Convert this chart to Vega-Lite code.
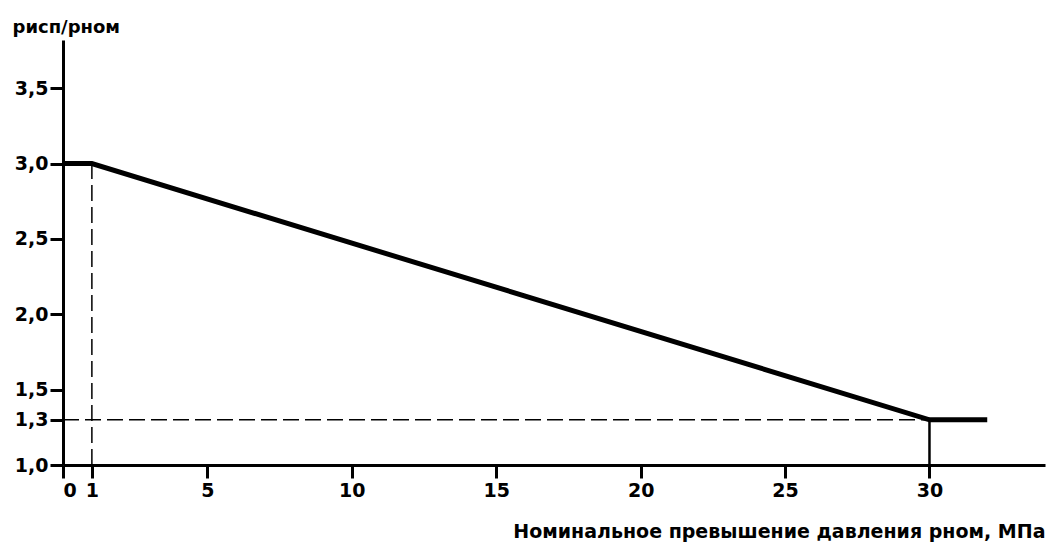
{
  "$schema": "https://vega.github.io/schema/vega-lite/v6.json",
  "autosize": {"type": "none"},
  "padding": {"left": 63, "top": 40, "right": 8, "bottom": 82},
  "width": 982,
  "height": 425,
  "config": {
    "view": {"stroke": null},
    "font": "DejaVu Sans",
    "axis": {"grid": false, "domainColor": "black", "domainWidth": 3, "tickColor": "black", "tickWidth": 3, "tickSize": 13, "labelFont": "DejaVu Sans", "labelFontWeight": "bold", "labelFontSize": 19, "labelColor": "black", "titleFont": "DejaVu Sans", "titleFontWeight": "bold", "titleFontSize": 19, "titleColor": "black"}
  },
  "datasets": {
    "main": [
      {"x": 0, "y": 3.0},
      {"x": 1, "y": 3.0},
      {"x": 30, "y": 1.3},
      {"x": 32, "y": 1.3}
    ],
    "vdash": [
      {"x": 1, "y": 1.0},
      {"x": 1, "y": 3.0}
    ],
    "hdash": [
      {"x": 0, "y": 1.3},
      {"x": 30, "y": 1.3}
    ],
    "vsolid": [
      {"x": 30, "y": 1.0},
      {"x": 30, "y": 1.3}
    ]
  },
  "layer": [
    {
      "data": {"name": "vdash"},
      "mark": {"type": "line", "color": "black", "strokeWidth": 1.5, "strokeDash": [16, 6]},
      "encoding": {
        "x": {"field": "x", "type": "quantitative", "scale": {"domain": [0, 34], "nice": false},
          "axis": {"values": [0, 1, 5, 10, 15, 20, 25, 30], "labelPadding": 3, "title": "Номинальное превышение давления pном, МПа", "titleAnchor": "end", "titleAlign": "right", "titleX": 982, "titleY": 57}},
        "y": {"field": "y", "type": "quantitative", "scale": {"domain": [1, 3.82], "nice": false, "zero": false},
          "axis": {"values": [1, 1.3, 1.5, 2, 2.5, 3, 3.5], "labelExpr": "replace(format(datum.value, '.1f'), '.', ',')", "labelPadding": 2, "title": "pисп/pном", "titleFontSize": 18, "titleAngle": 0, "titleAlign": "left", "titleBaseline": "bottom", "titleX": -51, "titleY": -4}}
      }
    },
    {
      "data": {"name": "hdash"},
      "mark": {"type": "line", "color": "black", "strokeWidth": 1.5, "strokeDash": [16, 6]},
      "encoding": {
        "x": {"field": "x", "type": "quantitative"},
        "y": {"field": "y", "type": "quantitative"}
      }
    },
    {
      "data": {"name": "vsolid"},
      "mark": {"type": "line", "color": "black", "strokeWidth": 2.5},
      "encoding": {
        "x": {"field": "x", "type": "quantitative"},
        "y": {"field": "y", "type": "quantitative"}
      }
    },
    {
      "data": {"name": "main"},
      "mark": {"type": "line", "color": "black", "strokeWidth": 5},
      "encoding": {
        "x": {"field": "x", "type": "quantitative"},
        "y": {"field": "y", "type": "quantitative"}
      }
    }
  ]
}
